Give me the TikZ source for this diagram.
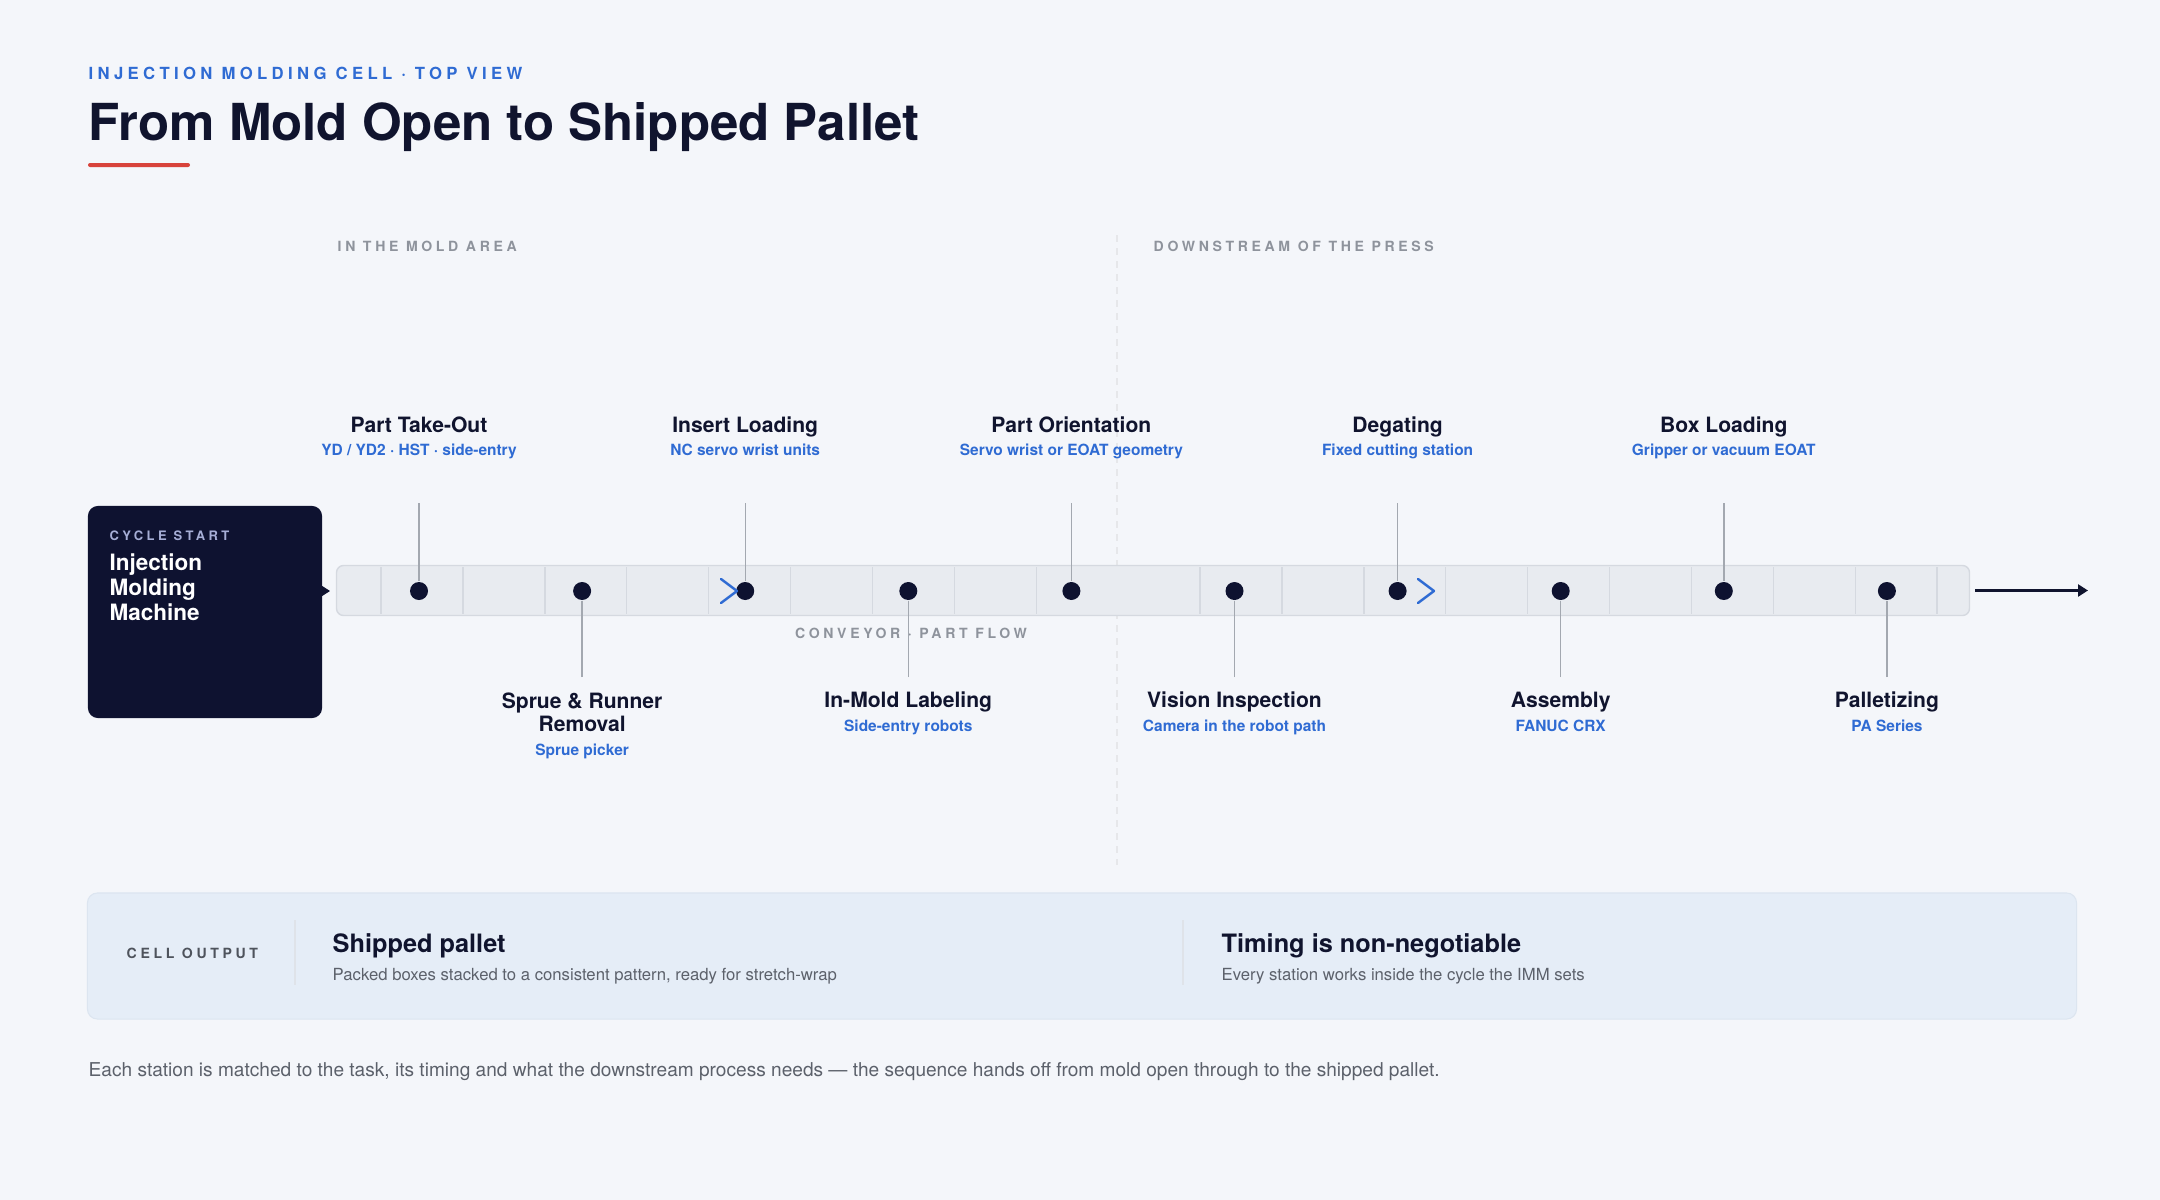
\documentclass[tikz,border=0pt]{standalone}
\usepackage{fontspec}
\setmainfont{TeX Gyre Heros}
\newfontfamily\trackfont[LetterSpace=26]{TeX Gyre Heros}
\usetikzlibrary{positioning,arrows.meta}

\definecolor{pagebg}{HTML}{F4F6FA}
\definecolor{ink}{HTML}{10142E}
\definecolor{navy}{HTML}{0E1230}
\definecolor{accent}{HTML}{2F6BD3}
\definecolor{redline}{HTML}{D8433B}
\definecolor{muted}{HTML}{8E939C}
\definecolor{tagdark}{HTML}{4E535C}
\definecolor{beltfill}{HTML}{E8EBF0}
\definecolor{beltedge}{HTML}{D5D9E0}
\definecolor{leadgray}{HTML}{A3A8B0}
\definecolor{panelfill}{HTML}{E5EDF7}
\definecolor{paneledge}{HTML}{DCE5F0}
\definecolor{bodygray}{HTML}{5C616B}
\definecolor{lavender}{HTML}{A6AED6}

\tikzset{
  stop/.style={circle, fill=navy, inner sep=0pt, minimum size=0.18cm},
  leader/.style={draw=leadgray, line width=0.4pt},
  sttitle/.style={anchor=base, inner sep=0pt, text=ink, align=center,
    font=\fontsize{6}{6.6}\selectfont\bfseries},
  stsub/.style={anchor=base, inner sep=0pt, text=accent,
    font=\fontsize{4.4}{5.2}\selectfont\bfseries},
  tag/.style={anchor=base west, inner sep=0pt, text=muted,
    font=\fontsize{4}{5}\trackfont\bfseries},
  chevron/.style={draw=accent, line width=0.7pt, line cap=round, line join=round},
  cell/.style={draw=beltedge, line width=0.4pt},
  pnltitle/.style={anchor=base west, inner sep=0pt, text=ink,
    font=\fontsize{7.2}{8.6}\selectfont\bfseries},
  pnlbody/.style={anchor=base west, inner sep=0pt, text=bodygray,
    font=\fontsize{4.75}{5.7}\selectfont},
}

\begin{document}
\begin{tikzpicture}[x=0.01cm, y=-0.01cm]
\fill[pagebg] (0,0) rectangle (2160,1200);
\useasboundingbox (0,0) rectangle (2160,1200);

% heading
\node[anchor=base west, inner sep=0pt, text=accent, font=\fontsize{4.75}{5.7}\trackfont\bfseries] (eyebrow) at (88,80) {INJECTION MOLDING CELL · TOP VIEW};
\node[anchor=base west, inner sep=0pt, text=ink, font=\fontsize{14.5}{17}\selectfont\bfseries] (title) at (88,140) {From Mold Open to Shipped Pallet};
\fill[redline, rounded corners=0.02cm] (88,163) rectangle (190,167);

% zones
\draw[beltedge!90!black!40, line width=0.4pt, dash pattern=on 0.07cm off 0.06cm] (1117,235) -- (1117,865);
\node[tag] (moldzone) at (337,251) {IN THE MOLD AREA};
\node[tag] (downzone) at (1153,251) {DOWNSTREAM OF THE PRESS};

% machine and belt
\node[fill=navy, rounded corners=0.1cm, minimum width=2.34cm, minimum height=2.12cm, inner sep=0pt] (imm) at (205,612) {};
\node[anchor=base west, inner sep=0pt, text=lavender, font=\fontsize{3.7}{4.5}\trackfont\bfseries] (cycle) at (109,540) {CYCLE START};
\node[anchor=north west, inner sep=0pt, text=white, align=left, font=\fontsize{6.4}{7.1}\selectfont\bfseries] (immname) at (109,553) {Injection\\Molding\\Machine};

\node[fill=beltfill, draw=beltedge, line width=0.4pt, rounded corners=0.07cm, minimum width=16.32cm, minimum height=0.5cm, inner sep=0pt] (conv) at (1153,590.5) {};
\foreach \k in {0,...,8,10,11,...,19}
  \draw[cell] ({381+\k*81.9},567) -- ({381+\k*81.9},614);
\node[anchor=base, inner sep=0pt, text=muted, font=\fontsize{4}{5}\trackfont\bfseries] (beltlbl) at (911,638) {CONVEYOR · PART FLOW};

\coordinate (feed) at (330,591);
\draw[navy, line width=0.3pt, -{Triangle[length=0.08cm, width=0.1cm]}] (imm.east |- feed) -- (feed);
\coordinate (ship) at (2088,590.5);
\draw[ink, line width=0.7pt, shorten <=0.05cm, -{Triangle[length=0.1cm, width=0.12cm]}] (conv.east) -- (ship);

% stations
\foreach \i in {1,...,10} {
  \pgfmathsetmacro{\sx}{419+163.1*(\i-1)}
  \pgfmathsetmacro{\ly}{isodd(\i) ? 503 : 677}
  \node[stop] (d\i) at (\sx,591) {};
  \coordinate (l\i) at (\sx,\ly);
  \draw[leader] (l\i) -- (d\i);
}
\draw[chevron] (721,579) -- (737,591) -- (721,603);
\draw[chevron] (1418,579) -- (1434,591) -- (1418,603);

\node[sttitle] (t1) at (419,432) {Part Take-Out};
\node[stsub] (u1) at (419,455) {YD / YD2 · HST · side-entry};
\node[sttitle, anchor=north] (t2) at (582.1,692) {Sprue \& Runner\\Removal};
\node[stsub] (u2) at (582.1,755) {Sprue picker};
\node[sttitle] (t3) at (745.2,432) {Insert Loading};
\node[stsub] (u3) at (745.2,455) {NC servo wrist units};
\node[sttitle] (t4) at (908.3,707) {In-Mold Labeling};
\node[stsub] (u4) at (908.3,731) {Side-entry robots};
\node[sttitle] (t5) at (1071.4,432) {Part Orientation};
\node[stsub] (u5) at (1071.4,455) {Servo wrist or EOAT geometry};
\node[sttitle] (t6) at (1234.5,707) {Vision Inspection};
\node[stsub] (u6) at (1234.5,731) {Camera in the robot path};
\node[sttitle] (t7) at (1397.6,432) {Degating};
\node[stsub] (u7) at (1397.6,455) {Fixed cutting station};
\node[sttitle] (t8) at (1560.7,707) {Assembly};
\node[stsub] (u8) at (1560.7,731) {FANUC CRX};
\node[sttitle] (t9) at (1723.8,432) {Box Loading};
\node[stsub] (u9) at (1723.8,455) {Gripper or vacuum EOAT};
\node[sttitle] (t10) at (1886.9,707) {Palletizing};
\node[stsub] (u10) at (1886.9,731) {PA Series};

% output panel
\node[fill=panelfill, draw=paneledge, line width=0.3pt, rounded corners=0.1cm, minimum width=19.88cm, minimum height=1.26cm, inner sep=0pt] (outpanel) at (1082,956) {};
\node[tag, text=tagdark] (celltag) at (126,958) {CELL OUTPUT};
\draw[paneledge!80!gray!60, line width=0.4pt] (295,920) -- (295,985);
\draw[paneledge!80!gray!60, line width=0.4pt] (1183,920) -- (1183,985);
\node[pnltitle] (pallet) at (332,952) {Shipped pallet};
\node[pnlbody] (palletnote) at (332,980) {Packed boxes stacked to a consistent pattern, ready for stretch-wrap};
\node[pnltitle] (timing) at (1221,952) {Timing is non-negotiable};
\node[pnlbody] (timingnote) at (1221,980) {Every station works inside the cycle the IMM sets};

\node[anchor=base west, inner sep=0pt, text=bodygray, font=\fontsize{5.43}{6.5}\selectfont] (foot) at (88,1076) {Each station is matched to the task, its timing and what the downstream process needs — the sequence hands off from mold open through to the shipped pallet.};
\end{tikzpicture}
\end{document}
